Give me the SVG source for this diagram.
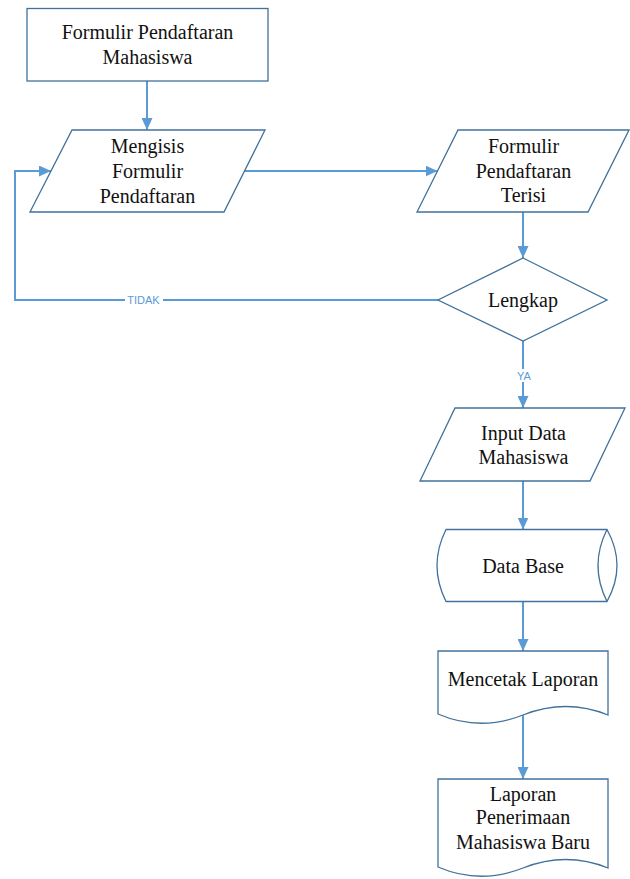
<svg xmlns="http://www.w3.org/2000/svg" width="630" height="879" viewBox="0 0 630 879">
<style>
.shape{fill:#fff;stroke:#41719C;stroke-width:1.3}
.t{font-size:20px;fill:#111;text-anchor:middle}
.c{fill:none;stroke:#5B9BD5;stroke-width:2}
.lbl{font-family:"Liberation Sans",Arial,sans-serif;font-size:11px;fill:#5B9BD5;text-anchor:middle}
</style>
<defs>
<marker id="ah" markerUnits="userSpaceOnUse" markerWidth="12" markerHeight="11" refX="12" refY="5.5" orient="auto">
<path d="M0,0 L12,5.5 L0,11 Z" fill="#5B9BD5"/>
</marker>
</defs>
<rect width="630" height="879" fill="#fff"/>
<g id="connectors">
<path class="c" d="M147,81 V130" marker-end="url(#ah)"/>
<path class="c" d="M244.5,171 H437.5" marker-end="url(#ah)"/>
<path class="c" d="M523,212 V258" marker-end="url(#ah)"/>
<path class="c" d="M438,300 H15 V171 H51" marker-end="url(#ah)"/>
<path class="c" d="M523,341 V408" marker-end="url(#ah)"/>
<path class="c" d="M523,481 V529.5" marker-end="url(#ah)"/>
<path class="c" d="M523,601.5 V651" marker-end="url(#ah)"/>
<path class="c" d="M523,715 V779" marker-end="url(#ah)"/>
<rect x="125" y="294" width="38" height="12" fill="#fff"/>
<text class="lbl" x="143.5" y="304">TIDAK</text>
<rect x="515" y="369" width="18" height="13" fill="#fff"/>
<text class="lbl" x="524" y="380">YA</text>
</g>
<g font-family="Liberation Serif, Times New Roman, DejaVu Serif, serif">
<g id="formulir-pendaftaran-mahasiswa">
<rect class="shape" x="27" y="8.5" width="241" height="72.5"/>
<text class="t" x="147.5" y="39">Formulir Pendaftaran</text>
<text class="t" x="147.5" y="64">Mahasiswa</text>
</g>
<g id="mengisis-formulir">
<polygon class="shape" points="72,130 265,130 224,212 30,212"/>
<text class="t" x="147.5" y="153">Mengisis</text>
<text class="t" x="147.5" y="178">Formulir</text>
<text class="t" x="147.5" y="202.5">Pendaftaran</text>
</g>
<g id="formulir-terisi">
<polygon class="shape" points="458,130 629,130 588,212 417,212"/>
<text class="t" x="523.5" y="153">Formulir</text>
<text class="t" x="523.5" y="178">Pendaftaran</text>
<text class="t" x="523.5" y="202">Terisi</text>
</g>
<g id="lengkap">
<polygon class="shape" points="523,258 607,300 523,341 438,300"/>
<text class="t" x="523" y="307">Lengkap</text>
</g>
<g id="input-data">
<polygon class="shape" points="455,408 625,408 590,481 420,481"/>
<text class="t" x="523.5" y="440">Input Data</text>
<text class="t" x="523.5" y="464">Mahasiswa</text>
</g>
<g id="data-base">
<path class="shape" d="M446,529.5 H607 Q627,565.5 607,601.5 H446 Q428,565.5 446,529.5 Z"/>
<path class="shape" fill="none" d="M607,529.5 Q589,565.5 607,601.5"/>
<text class="t" x="523" y="573">Data Base</text>
</g>
<g id="mencetak-laporan">
<path class="shape" d="M438,651 H608 V715 Q566,698 523,715 T438,714 Z"/>
<text class="t" x="523" y="685.5">Mencetak Laporan</text>
</g>
<g id="laporan-penerimaan">
<path class="shape" d="M438,779 H608 V868 Q566,851 523,868 T438,867 Z"/>
<text class="t" x="523" y="800.5">Laporan</text>
<text class="t" x="523" y="824">Penerimaan</text>
<text class="t" x="523" y="849">Mahasiswa Baru</text>
</g>
</g>
</svg>
